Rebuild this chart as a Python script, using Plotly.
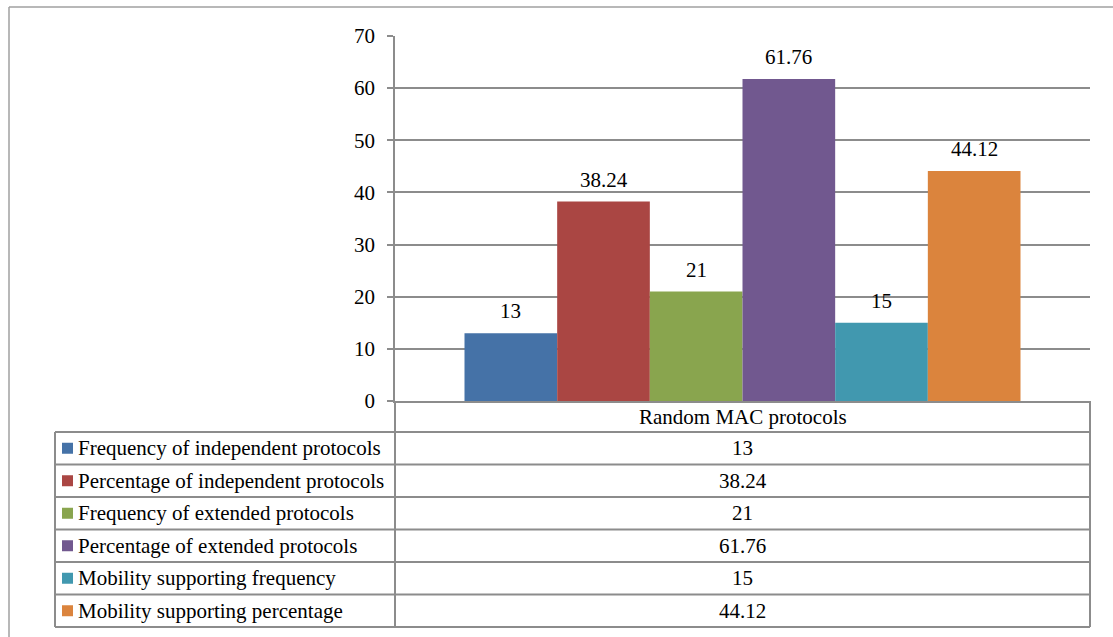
import plotly.graph_objects as go

# Chart data
category = "Random MAC protocols"
series_names = [
    "Frequency of independent protocols",
    "Percentage of independent protocols",
    "Frequency of extended protocols",
    "Percentage of extended protocols",
    "Mobility supporting frequency",
    "Mobility supporting percentage",
]
series_values = [13, 38.24, 21, 61.76, 15, 44.12]
series_colors = ["#4572A7", "#AA4643", "#89A54E", "#71588F", "#4198AF", "#DB843D"]
y_ticks = [0, 10, 20, 30, 40, 50, 60, 70]

W, H = 1113, 637
FONT = "Liberation Serif"
FS = 21
LINE = "#8c8c8c"

# Page geometry (pixels)
PLOT_L, PLOT_R, PLOT_T, PLOT_B = 395, 1090, 36, 401
TABLE_L = 55
CAT_ROW_B = 432
ROW_H = 32.5
BARGAP = 0.2


def px(x):
    return x / W


def py(y):
    return 1 - y / H


fig = go.Figure()
for name, val, col in zip(series_names, series_values, series_colors):
    fig.add_trace(go.Bar(
        x=[category], y=[val], name=name,
        marker=dict(color=col, line=dict(width=0)),
        showlegend=False, hoverinfo="y+name",
    ))

shapes = []
annotations = []

# Value labels above the bars
n = len(series_values)
group_w = 1 - BARGAP
for i, val in enumerate(series_values):
    xc = -group_w / 2 + (i + 0.5) * group_w / n
    annotations.append(dict(
        x=xc, y=val, xref="x", yref="y", text=f"{val:g}",
        showarrow=False, yanchor="middle", yshift=22,
        font=dict(family=FONT, size=FS, color="black"),
    ))

# Outer chart frame (top and left edges fall inside the page)
frame = dict(color="#a0a0a0", width=1.5)
shapes.append(dict(type="line", xref="paper", yref="paper",
                   x0=px(9), x1=1, y0=py(7), y1=py(7), line=frame))
shapes.append(dict(type="line", xref="paper", yref="paper",
                   x0=px(9), x1=px(9), y0=py(7), y1=0, line=frame))

# Data table below the plot
n_rows = len(series_names)
table_b = CAT_ROW_B + n_rows * ROW_H
line = dict(color=LINE, width=2)
shapes.append(dict(type="line", xref="paper", yref="paper",
                   x0=px(PLOT_R), x1=px(PLOT_R), y0=py(PLOT_B), y1=py(table_b), line=line))
shapes.append(dict(type="line", xref="paper", yref="paper",
                   x0=px(PLOT_L), x1=px(PLOT_L), y0=py(PLOT_B), y1=py(table_b), line=line))
shapes.append(dict(type="line", xref="paper", yref="paper",
                   x0=px(TABLE_L), x1=px(TABLE_L), y0=py(CAT_ROW_B), y1=py(table_b), line=line))
for r in range(n_rows + 1):
    yy = CAT_ROW_B + r * ROW_H
    shapes.append(dict(type="line", xref="paper", yref="paper",
                       x0=px(TABLE_L), x1=px(PLOT_R), y0=py(yy), y1=py(yy), line=line))

annotations.append(dict(
    x=px((PLOT_L + PLOT_R) / 2), y=py((PLOT_B + CAT_ROW_B) / 2), xref="paper", yref="paper",
    text=category, showarrow=False, xanchor="center", yanchor="middle",
    font=dict(family=FONT, size=FS, color="black"),
))

for r, (name, val, col) in enumerate(zip(series_names, series_values, series_colors)):
    yc = CAT_ROW_B + (r + 0.5) * ROW_H
    shapes.append(dict(type="rect", xref="paper", yref="paper",
                       x0=px(62), x1=px(73), y0=py(yc + 5.5), y1=py(yc - 5.5),
                       fillcolor=col, line=dict(width=0)))
    annotations.append(dict(
        x=px(76), y=py(yc), xref="paper", yref="paper", text=name,
        showarrow=False, xanchor="left", yanchor="middle",
        font=dict(family=FONT, size=FS, color="black"),
    ))
    annotations.append(dict(
        x=px((PLOT_L + PLOT_R) / 2), y=py(yc), xref="paper", yref="paper", text=f"{val:g}",
        showarrow=False, xanchor="center", yanchor="middle",
        font=dict(family=FONT, size=FS, color="black"),
    ))

fig.update_layout(
    template="none",
    width=W, height=H, autosize=False,
    margin=dict(l=0, r=0, t=0, b=0, pad=0, autoexpand=False),
    paper_bgcolor="white", plot_bgcolor="white",
    barmode="group", bargap=BARGAP, bargroupgap=0,
    font=dict(family=FONT, size=FS, color="black"),
    xaxis=dict(domain=[px(PLOT_L), px(PLOT_R)], showticklabels=False, ticks="",
               showline=True, linecolor=LINE, linewidth=2, showgrid=False,
               automargin=False, fixedrange=True),
    yaxis=dict(domain=[py(PLOT_B), py(PLOT_T)], range=[0, 70], tickvals=y_ticks,
               ticks="outside", ticklen=6, tickcolor=LINE, tickwidth=1.5,
               showline=True, linecolor=LINE, linewidth=1.5,
               showgrid=True, gridcolor=LINE, gridwidth=1.5, zeroline=False,
               tickfont=dict(family=FONT, size=FS, color="black"),
               ticklabelstandoff=8, automargin=False, fixedrange=True),
    shapes=shapes, annotations=annotations,
)

fig.write_html("out.html")
